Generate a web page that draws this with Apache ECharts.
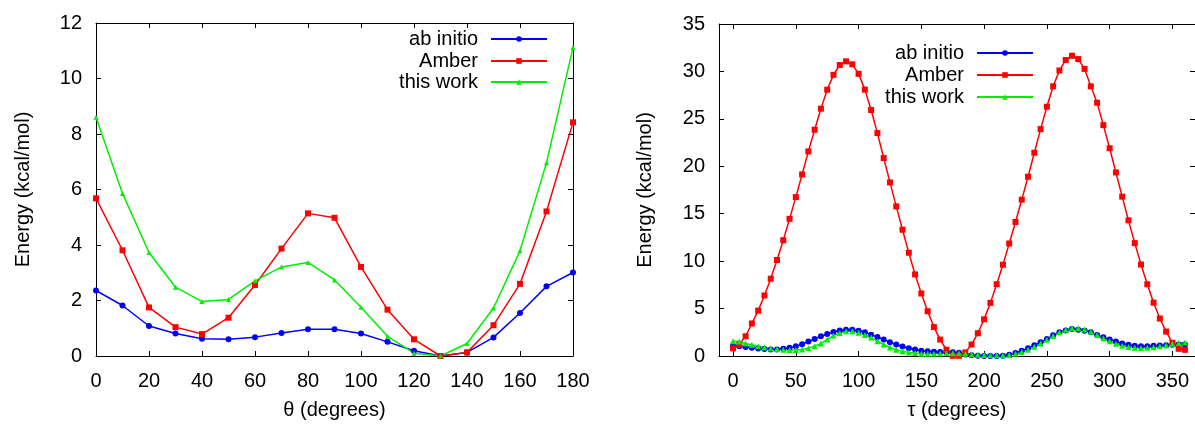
<!DOCTYPE html>
<html>
<head>
<meta charset="utf-8">
<script src="https://cdn.jsdelivr.net/npm/echarts@6/dist/echarts.min.js"></script>
<style>html,body{margin:0;padding:0;background:#fff;}#c{width:1195px;height:425px;}</style>
</head>
<body>
<div id="c"></div>
<script>
// ---- Left panel: theta scan ----
var thetaDeg = [0,10,20,30,40,50,60,70,80,90,100,110,120,130,140,150,160,170,180];
var thetaAbInitio = [2.36,1.82,1.08,0.81,0.62,0.60,0.68,0.83,0.96,0.96,0.81,0.51,0.19,0.00,0.13,0.67,1.55,2.51,3.01];
var thetaAmber    = [5.68,3.81,1.75,1.04,0.79,1.38,2.56,3.87,5.14,4.98,3.21,1.67,0.60,0.00,0.13,1.11,2.60,5.21,8.42];
var thetaThisWork = [8.60,5.86,3.73,2.48,1.96,2.04,2.71,3.21,3.37,2.74,1.76,0.71,0.10,0.00,0.45,1.73,3.79,6.96,11.12];
var thetaXTicks = [0,20,40,60,80,100,120,140,160,180];

// ---- Right panel: tau scan ----
var tauDeg = [0,5,10,15,20,25,30,35,40,45,50,55,60,65,70,75,80,85,90,95,100,105,110,115,120,125,130,135,140,145,150,155,160,165,170,175,180,
              185,190,195,200,205,210,215,220,225,230,235,240,245,250,255,260,265,270,275,280,285,290,295,300,305,310,315,320,325,330,335,340,345,350,355,360];
var tauAbInitio = [1.11,1.04,0.94,0.87,0.80,0.73,0.69,0.69,0.76,0.87,1.04,1.25,1.53,1.80,2.08,2.32,2.53,2.70,2.77,2.77,2.67,2.50,2.25,2.01,1.73,1.46,1.21,1.00,0.83,0.69,0.55,0.49,0.45,0.42,0.42,0.40,0.35,
                   0.17,0.07,0.02,0.00,0.00,0.00,0.02,0.14,0.31,0.55,0.83,1.14,1.46,1.80,2.18,2.50,2.70,2.84,2.77,2.67,2.50,2.22,1.98,1.73,1.53,1.32,1.18,1.07,1.04,1.04,1.07,1.11,1.14,1.18,1.21,1.21];
var tauAmber = [0.80,1.20,2.08,3.43,4.78,6.38,8.15,10.12,12.20,14.46,16.75,19.14,21.57,23.85,26.07,28.08,29.64,30.68,31.06,30.75,29.75,28.08,25.93,23.50,20.87,18.30,15.77,13.31,10.89,8.60,6.59,4.72,3.05,1.73,0.66,0.02,0.02,
                0.38,1.21,2.40,3.87,5.60,7.57,9.62,11.86,14.13,16.48,18.90,21.43,23.92,26.28,28.43,30.10,31.20,31.65,31.30,30.27,28.43,26.70,24.34,21.90,19.35,16.80,14.30,11.90,9.64,7.56,5.62,3.95,2.57,1.39,0.76,0.65];
var tauThisWork = [1.56,1.53,1.32,1.18,1.04,0.90,0.80,0.73,0.66,0.62,0.62,0.69,0.83,1.04,1.32,1.73,2.15,2.43,2.60,2.60,2.46,2.22,1.94,1.56,1.21,0.90,0.66,0.49,0.38,0.31,0.24,0.24,0.24,0.26,0.28,0.30,0.30,
                   0.24,0.17,0.14,0.10,0.07,0.07,0.08,0.10,0.24,0.42,0.66,0.97,1.32,1.70,2.10,2.50,2.78,2.92,2.92,2.80,2.55,2.22,1.88,1.55,1.28,1.07,0.94,0.87,0.84,0.86,0.92,1.02,1.14,1.28,1.38,1.42];
var tauXTicks = [0,50,100,150,200,250,300,350];

var seriesNames = ['ab initio','Amber','this work'];
var colors = ['#0000ff','#ff0000','#00ee00'];
var symbols = ['circle','rect','triangle'];

var FONT = '"Liberation Sans", Arial, Helvetica, sans-serif';

function pairs(xs, ys){ return xs.map(function(x,i){ return [x, ys[i]]; }); }

function axisCommon(extra){
  var base = {
    type:'value',
    axisLine:{show:true, onZero:false, lineStyle:{color:'#000', width:1}},
    axisTick:{show:true, inside:true, length:5, lineStyle:{color:'#000', width:1}},
    splitLine:{show:false},
    axisLabel:{show:true, color:'#000', fontSize:20, fontFamily:FONT, margin:14},
    nameTextStyle:{color:'#000', fontSize:20, fontFamily:FONT}
  };
  for (var k in extra) {
    if (typeof extra[k] === 'object' && !Array.isArray(extra[k]) && base[k]) {
      for (var j in extra[k]) base[k][j] = extra[k][j];
    } else base[k] = extra[k];
  }
  return base;
}

var option = {
  animation:false,
  backgroundColor:'#fff',
  grid:[
    {left:96, top:23, width:477, height:336},
    {left:719, top:24, width:476, height:336}
  ],
  xAxis:[
    axisCommon({gridIndex:0, position:'bottom', min:0, max:180, interval:20,
      name:'θ (degrees)', nameLocation:'middle', nameGap:44,
      axisLabel:{margin:15}}),
    axisCommon({gridIndex:0, position:'top', min:0, max:180, interval:20,
      axisLabel:{show:false}}),
    axisCommon({gridIndex:1, position:'bottom', min:-11.2, max:368,
      name:'τ (degrees)', nameLocation:'middle', nameGap:44,
      axisTick:{customValues:tauXTicks},
      axisLabel:{margin:15, customValues:tauXTicks}}),
    axisCommon({gridIndex:1, position:'top', min:-11.2, max:368,
      axisTick:{customValues:tauXTicks},
      axisLabel:{show:false, customValues:tauXTicks}})
  ],
  yAxis:[
    axisCommon({gridIndex:0, position:'left', min:0, max:12, interval:2,
      name:'Energy (kcal/mol)', nameLocation:'middle', nameGap:63}),
    axisCommon({gridIndex:0, position:'right', min:0, max:12, interval:2,
      axisLabel:{show:false}}),
    axisCommon({gridIndex:1, position:'left', min:0, max:35, interval:5,
      name:'Energy (kcal/mol)', nameLocation:'middle', nameGap:64}),
    axisCommon({gridIndex:1, position:'right', min:0, max:35, interval:5,
      axisLabel:{show:false}})
  ],
  legend:[],
  series:[]
};

var leftData = [thetaAbInitio, thetaAmber, thetaThisWork];
var rightData = [tauAbInitio, tauAmber, tauThisWork];
var leftSizes = [6,6,5];
var rightSizes = [6,6,6];

seriesNames.forEach(function(name,i){
  option.series.push({
    name:name, type:'line', xAxisIndex:0, yAxisIndex:0,
    data:pairs(thetaDeg, leftData[i]),
    symbol:symbols[i], symbolSize:leftSizes[i], showSymbol:true, showAllSymbol:true,
    lineStyle:{color:colors[i], width:1.5}, itemStyle:{color:colors[i]},
    emphasis:{disabled:true}, clip:true
  });
});
seriesNames.forEach(function(name,i){
  option.series.push({
    name:name, type:'line', xAxisIndex:2, yAxisIndex:2,
    data:pairs(tauDeg, rightData[i]),
    symbol:symbols[i], symbolSize:rightSizes[i], showSymbol:true, showAllSymbol:true,
    lineStyle:{color:colors[i], width:1.5}, itemStyle:{color:colors[i]},
    emphasis:{disabled:true}, clip:true
  });
});

function legendItem(name, right, top){
  return {
    data:[name], right:right, top:top, orient:'vertical', align:'right',
    itemWidth:56, itemHeight:7, padding:0, selectedMode:false,
    textStyle:{color:'#000', fontSize:20, lineHeight:20, fontFamily:FONT, padding:[0,8,0,0]}
  };
}
var leftTops = [29,51,72];
var rightTops = [43,65,87];
seriesNames.forEach(function(name,i){
  option.legend.push(legendItem(name, 647, leftTops[i]));
  option.legend.push(legendItem(name, 161, rightTops[i]));
});

var chart = echarts.init(document.getElementById('c'), null, {renderer:'canvas'});
chart.setOption(option);
</script>
</body>
</html>
